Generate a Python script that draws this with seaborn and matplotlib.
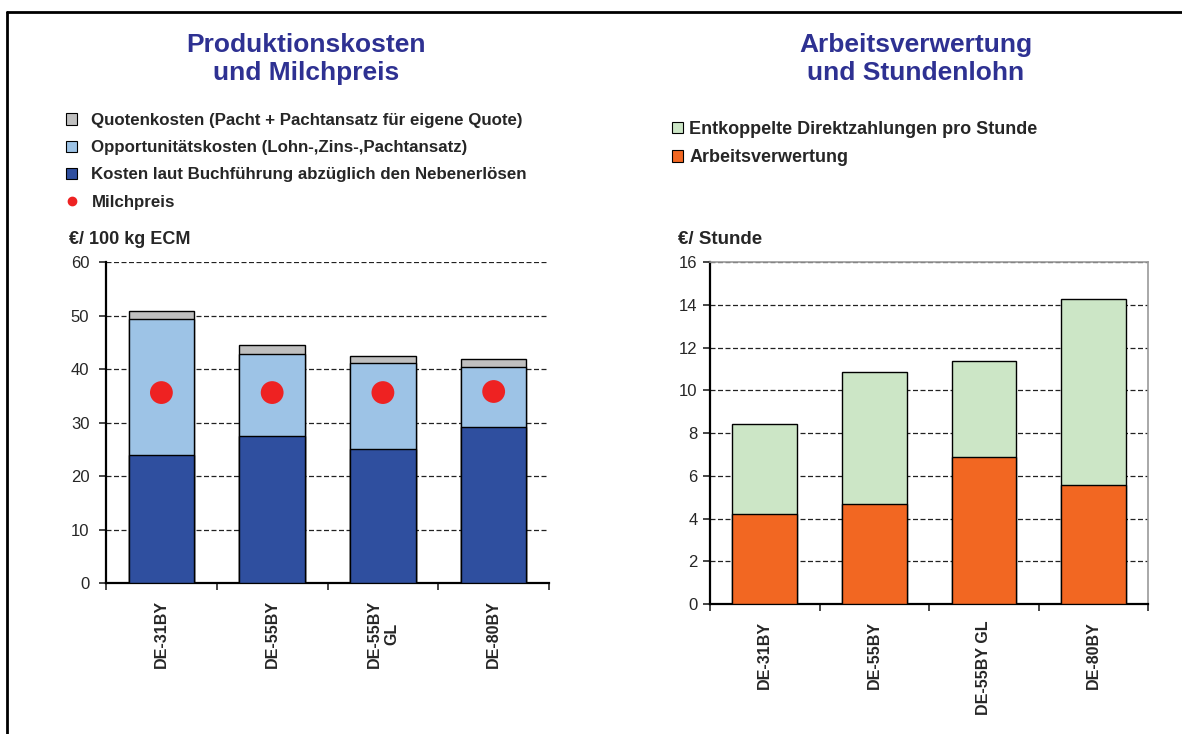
import pandas as pd
import seaborn as sns
import matplotlib.pyplot as plt
from matplotlib.patches import Patch
from matplotlib.lines import Line2D

# ======================
# DATEN
# ======================

betriebe_links = ["DE-31BY", "DE-55BY", "DE-55BY\nGL", "DE-80BY"]
betriebe_rechts = ["DE-31BY", "DE-55BY", "DE-55BY GL", "DE-80BY"]

# Produktionskosten (€/100 kg ECM), kumuliert
kosten_buchfuehrung = [24.0, 27.5, 25.1, 29.1]
kosten_opportunitaet_top = [49.3, 42.8, 41.2, 40.4]
kosten_quote_top = [50.8, 44.4, 42.5, 41.9]
milchpreis = [35.6, 35.6, 35.6, 35.8]

# Arbeitsverwertung (€/Stunde), kumuliert
arbeitsverwertung = [4.2, 4.7, 6.9, 5.55]
direktzahlung_top = [8.4, 10.85, 11.35, 14.25]

df_l = pd.DataFrame({
    "betrieb": betriebe_links,
    "buch": kosten_buchfuehrung,
    "opp": kosten_opportunitaet_top,
    "quote": kosten_quote_top,
    "milch": milchpreis,
})
df_r = pd.DataFrame({
    "betrieb": betriebe_rechts,
    "arbeit": arbeitsverwertung,
    "direkt": direktzahlung_top,
})

# Farben
c_dunkelblau = "#2F4F9F"
c_hellblau = "#9DC3E6"
c_grau = "#BFBFBF"
c_rot = "#EE2222"
c_orange = "#F26722"
c_gruen = "#CCE6C6"
c_titel = "#2E3192"

sns.set_style("white")
plt.rcParams['font.family'] = ['Liberation Sans', 'DejaVu Sans']

fig = plt.figure(figsize=(11.82, 7.34), dpi=100)
ax1 = fig.add_axes([0.0897, 0.2057, 0.3748, 0.4373])
ax2 = fig.add_axes([0.6007, 0.1771, 0.3706, 0.4659])

bw = 0.59
kw = dict(edgecolor="black", linewidth=1.0, width=bw, zorder=3, saturation=1)

# ======================
# LINKS: PRODUKTIONSKOSTEN
# ======================
sns.barplot(data=df_l, x="betrieb", y="quote", color=c_grau, ax=ax1, **kw)
sns.barplot(data=df_l, x="betrieb", y="opp", color=c_hellblau, ax=ax1, **kw)
sns.barplot(data=df_l, x="betrieb", y="buch", color=c_dunkelblau, ax=ax1, **kw)
sns.scatterplot(data=df_l, x="betrieb", y="milch", color=c_rot, s=270,
                edgecolor="none", ax=ax1, zorder=5, legend=False)

ax1.set_ylim(0, 60)
ax1.set_yticks(range(0, 61, 10))

# ======================
# RECHTS: ARBEITSVERWERTUNG
# ======================
sns.barplot(data=df_r, x="betrieb", y="direkt", color=c_gruen, ax=ax2, **kw)
sns.barplot(data=df_r, x="betrieb", y="arbeit", color=c_orange, ax=ax2, **kw)

ax2.set_ylim(0, 16)
ax2.set_yticks(range(0, 17, 2))

for ax, ypad in ((ax1, 7), (ax2, 4)):
    ax.set_xlim(-0.5, 3.5)
    ax.set_xlabel("")
    ax.set_ylabel("")
    ax.yaxis.grid(True, linestyle=(0, (4, 2)), color="#222222", linewidth=0.9, zorder=0)
    ax.set_axisbelow(True)
    ax.tick_params(axis="y", labelsize=12, length=5, width=1.2, direction="out", left=True, pad=ypad)
    ax.tick_params(axis="x", which="major", length=0, pad=12)
    ax.set_xticks([-0.5, 0.5, 1.5, 2.5, 3.5], minor=True)
    ax.tick_params(axis="x", which="minor", length=5, width=1.2, direction="out", bottom=True)
    for lab in ax.get_xticklabels():
        lab.set_rotation(90)
        lab.set_fontweight("bold")
        lab.set_fontsize(11.5)
        lab.set_va("top")
        lab.set_ha("center")
    ax.spines["left"].set_linewidth(1.6)
    ax.spines["bottom"].set_linewidth(1.6)
    ax.spines["left"].set_color("black")
    ax.spines["bottom"].set_color("black")

ax1.spines["top"].set_visible(False)
ax1.spines["right"].set_visible(False)
for s in ("top", "right"):
    ax2.spines[s].set_color("#9A9A9A")
    ax2.spines[s].set_linewidth(1.2)

# ======================
# TITEL, EINHEITEN, LEGENDEN
# ======================
fig.text(306 / 1182, 1 - 59 / 734, "Produktionskosten\nund Milchpreis", ha="center", va="center",
         fontsize=19, fontweight="bold", color=c_titel, linespacing=1.25)
fig.text(916 / 1182, 1 - 59 / 734, "Arbeitsverwertung\nund Stundenlohn", ha="center", va="center",
         fontsize=19, fontweight="bold", color=c_titel, linespacing=1.25)

fig.text(69 / 1182, 1 - 239 / 734, "€/ 100 kg ECM", ha="left", va="center",
         fontsize=13, fontweight="bold")
fig.text(678 / 1182, 1 - 239 / 734, "€/ Stunde", ha="left", va="center",
         fontsize=13.5, fontweight="bold")

handles_l = [
    Patch(facecolor=c_grau, edgecolor="black", linewidth=0.8),
    Patch(facecolor=c_hellblau, edgecolor="black", linewidth=0.8),
    Patch(facecolor=c_dunkelblau, edgecolor="black", linewidth=0.8),
    Line2D([], [], marker="o", color=c_rot, linestyle="none", markersize=6),
]
labels_l = [
    "Quotenkosten (Pacht + Pachtansatz für eigene Quote)",
    "Opportunitätskosten (Lohn-,Zins-,Pachtansatz)",
    "Kosten laut Buchführung abzüglich den Nebenerlösen",
    "Milchpreis",
]
leg1 = fig.legend(handles_l, labels_l, loc="upper left",
                  bbox_to_anchor=(66 / 1182, 1 - 113 / 734), frameon=False,
                  prop={"weight": "bold", "size": 12.2}, handlelength=0.65,
                  handleheight=0.65, handletextpad=0.85, labelspacing=0.72,
                  borderaxespad=0, borderpad=0)

handles_r = [
    Patch(facecolor=c_gruen, edgecolor="black", linewidth=0.8),
    Patch(facecolor=c_orange, edgecolor="black", linewidth=0.8),
]
labels_r = ["Entkoppelte Direktzahlungen pro Stunde", "Arbeitsverwertung"]
leg2 = fig.legend(handles_r, labels_r, loc="upper left",
                  bbox_to_anchor=(672 / 1182, 1 - 121 / 734), frameon=False,
                  prop={"weight": "bold", "size": 13}, handlelength=0.6,
                  handleheight=0.6, handletextpad=0.35, labelspacing=0.62,
                  borderaxespad=0, borderpad=0)

# Rahmen oben und links
fig.add_artist(Line2D([7 / 1182, 1.0], [1 - 12 / 734, 1 - 12 / 734], color="black",
                      linewidth=2, transform=fig.transFigure))
fig.add_artist(Line2D([7 / 1182, 7 / 1182], [0, 1 - 12 / 734], color="black",
                      linewidth=2, transform=fig.transFigure))

plt.savefig("out.png", dpi=100)
